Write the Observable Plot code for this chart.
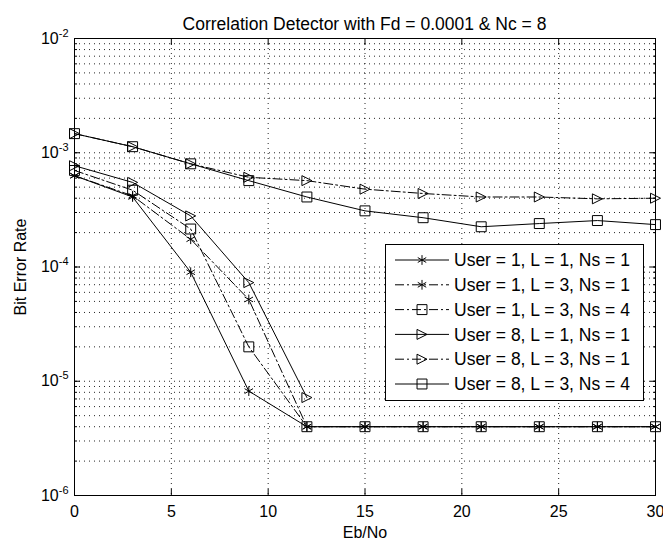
<!DOCTYPE html>
<html><head><meta charset="utf-8">
<script src="https://cdn.jsdelivr.net/npm/d3@7"></script>
<script src="https://cdn.jsdelivr.net/npm/@observablehq/plot@0.6"></script>
<style>
html,body{margin:0;padding:0;background:#fff;}
#wrap{position:relative;width:663px;height:543px;overflow:hidden;}
#wrap svg{display:block;}
#over{position:absolute;left:0;top:0;pointer-events:none;}
</style></head><body><div id="wrap"></div>
<script>
// ---- data ----
const ebno = [0, 3, 6, 9, 12, 15, 18, 21, 24, 27, 30];
const seriesNames = [
  "User = 1, L = 1, Ns = 1",
  "User = 1, L = 3, Ns = 1",
  "User = 1, L = 3, Ns = 4",
  "User = 8, L = 1, Ns = 1",
  "User = 8, L = 3, Ns = 1",
  "User = 8, L = 3, Ns = 4"
];
const ber_u1_l1_ns1 = [6.3e-4, 4.1e-4, 9.0e-5, 8.2e-6, 4e-6, 4e-6, 4e-6, 4e-6, 4e-6, 4e-6, 4e-6];
const ber_u1_l3_ns1 = [6.3e-4, 4.2e-4, 1.75e-4, 5.2e-5, 4e-6, 4e-6, 4e-6, 4e-6, 4e-6, 4e-6, 4e-6];
const ber_u1_l3_ns4 = [7.0e-4, 4.7e-4, 2.15e-4, 2.0e-5, 4e-6, 4e-6, 4e-6, 4e-6, 4e-6, 4e-6, 4e-6];
const ber_u8_l1_ns1 = [7.7e-4, 5.5e-4, 2.8e-4, 7.3e-5, 7.2e-6, null, null, null, null, null, null];
const ber_u8_l3_ns1 = [1.47e-3, 1.13e-3, 8.0e-4, 6.1e-4, 5.7e-4, 4.8e-4, 4.4e-4, 4.1e-4, 4.1e-4, 3.95e-4, 4.0e-4];
const ber_u8_l3_ns4 = [1.47e-3, 1.13e-3, 8.0e-4, 5.7e-4, 4.1e-4, 3.1e-4, 2.7e-4, 2.25e-4, 2.4e-4, 2.55e-4, 2.35e-4];
const xTicks = [0, 5, 10, 15, 20, 25, 30];
const yDecades = [1e-6, 1e-5, 1e-4, 1e-3, 1e-2];
const titleText = "Correlation Detector with Fd = 0.0001 & Nc = 8";
const xLabel = "Eb/No";
const yLabel = "Bit Error Rate";

// ---- styles ----
const triRight = {
  draw(ctx, size) {
    const r = Math.sqrt(size / Math.PI);
    ctx.moveTo(r, 0); ctx.lineTo(-r, -r); ctx.lineTo(-r, r); ctx.closePath();
  }
};
const DASHDOT = "9,3,2,3";
const styles = [
  {dash: null, symbol: "asterisk", r: 4.6},
  {dash: DASHDOT, symbol: "asterisk", r: 4.6},
  {dash: DASHDOT, symbol: "square", r: 5.6},
  {dash: null, symbol: triRight, r: 5},
  {dash: DASHDOT, symbol: triRight, r: 5},
  {dash: null, symbol: "square", r: 5.6}
];
const allValues = [ber_u1_l1_ns1, ber_u1_l3_ns1, ber_u1_l3_ns4, ber_u8_l1_ns1, ber_u8_l3_ns1, ber_u8_l3_ns4];

const yMinor = yDecades.slice(0, -1).flatMap(d => [1,2,3,4,5,6,7,8,9].map(k => d * k)).concat([yDecades[yDecades.length-1]]);

const rows = allValues.map((vals, s) => ebno.map((x, j) => ({s, x, y: vals[j]})).filter(d => d.y != null));

const FONT = "'Liberation Sans', Arial, Helvetica, sans-serif";
const grid = {stroke: "#000", strokeOpacity: 0.85, strokeWidth: 1, strokeDasharray: "1,4"};

const marks = [
  Plot.gridX(xTicks.slice(1, -1), grid),
  Plot.gridY(yMinor.filter(v => v > 1e-6 && v < 1e-2), grid),
];
rows.forEach((data, s) => {
  marks.push(Plot.line(data, {x: "x", y: "y", stroke: "#000", strokeWidth: 1, strokeDasharray: styles[s].dash}));
});
rows.forEach((data, s) => {
  marks.push(Plot.dot(data, {x: "x", y: "y", symbol: styles[s].symbol, r: styles[s].r, stroke: "#000", fill: "none", strokeWidth: 1}));
});
marks.push(
  Plot.axisX(xTicks, {anchor: "bottom", tickSize: -6, tickPadding: 16, tickFormat: d => String(d), label: xLabel, labelAnchor: "center", labelOffset: 42, labelArrow: "none"}),
  Plot.axisX(xTicks, {anchor: "top", tickSize: -6, tickFormat: () => "", label: null}),
  Plot.axisY(yMinor, {anchor: "left", tickSize: -3, tickFormat: () => "", label: null}),
  Plot.axisY(yMinor, {anchor: "right", tickSize: -3, tickFormat: () => "", label: null}),
  Plot.axisY(yDecades, {anchor: "left", tickSize: -6, tickPadding: 12, tickFormat: d => String(Math.round(Math.log10(d))), label: yLabel, labelAnchor: "center", labelOffset: 60, labelArrow: "none"}),
  Plot.axisY(yDecades, {anchor: "right", tickSize: -6, tickFormat: () => "", label: null}),
  Plot.frame({stroke: "#000", strokeWidth: 1})
);

const chart = Plot.plot({
  width: 663, height: 543,
  marginLeft: 74, marginRight: 8, marginTop: 38, marginBottom: 48,
  style: {fontFamily: FONT, fontSize: "16px", color: "#000", background: "#fff"},
  x: {domain: [0, 30]},
  y: {type: "log", domain: [1e-6, 1e-2]},
  marks
});
document.getElementById("wrap").appendChild(chart);

// superscript exponents on y tick labels
d3.select(chart).selectAll('g[aria-label="y-axis tick label"] text').each(function() {
  const t = d3.select(this);
  const e = t.text();
  if (!e) return;
  t.text("10");
  t.append("tspan").attr("dy", "-7").attr("font-size", "11px").text(e);
});

// ---- overlay: title + legend ----
const over = d3.select("#wrap").append("svg").attr("id", "over").attr("width", 663).attr("height", 543)
  .style("font-family", FONT);
over.append("text").attr("x", 364.5).attr("y", 30).attr("text-anchor", "middle")
  .attr("font-size", "17.5px").attr("fill", "#000").text(titleText);

const L = {x: 385, y: 244, w: 258, h: 156, row0: 16, step: 24.8};
const lg = over.append("g").attr("transform", `translate(${L.x},${L.y})`);
lg.append("rect").attr("x", 0.5).attr("y", 0.5).attr("width", L.w).attr("height", L.h)
  .attr("fill", "#fff").attr("stroke", "#000").attr("stroke-width", 1);
seriesNames.forEach((name, i) => {
  const yy = L.row0 + i * L.step;
  const st = styles[i];
  lg.append("line").attr("x1", 10).attr("x2", 64).attr("y1", yy).attr("y2", yy)
    .attr("stroke", "#000").attr("stroke-width", 1).attr("stroke-dasharray", st.dash);
  const symType = st.symbol === "asterisk" ? d3.symbolAsterisk : st.symbol === "square" ? d3.symbolSquare : st.symbol;
  lg.append("path").attr("transform", `translate(37,${yy})`)
    .attr("d", d3.symbol(symType, Math.PI * st.r * st.r)())
    .attr("fill", "none").attr("stroke", "#000").attr("stroke-width", 1);
  lg.append("text").attr("x", 69).attr("y", yy).attr("dy", "0.35em")
    .attr("font-size", "17.5px").attr("fill", "#000").text(name);
});
</script>
</body></html>
